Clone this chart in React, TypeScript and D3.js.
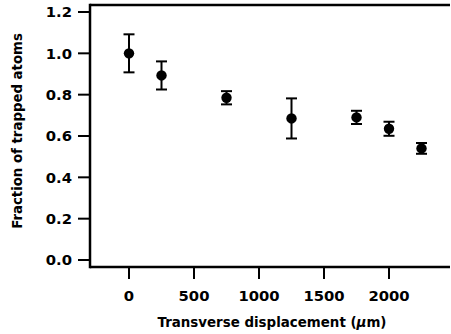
import React from "react";
import * as d3 from "d3";

const displacement = [0, 250, 750, 1250, 1750, 2000, 2250];
const fraction = [1.0, 0.893, 0.785, 0.685, 0.69, 0.635, 0.54];
const errors = [0.092, 0.068, 0.032, 0.097, 0.032, 0.034, 0.026];
const xTicks = [0, 500, 1000, 1500, 2000];
const yTicks = [0.0, 0.2, 0.4, 0.6, 0.8, 1.0, 1.2];

const W = 451;
const H = 334;
const left = 90;
const right = 450;
const top = 5;
const bottom = 267;

export default function App() {
  const x = d3.scaleLinear().domain([0, 2000]).range([129, 389]);
  const y = d3.scaleLinear().domain([0, 1.2]).range([260, 12]);
  const font = "'DejaVu Sans', sans-serif";
  return (
    <svg width={W} height={H} style={{ position: "absolute", left: 0, top: 0 }}>
      <rect width={W} height={H} fill="#fff" />
      <line x1={left} x2={left} y1={top - 1.25} y2={bottom + 1.25} stroke="#000" strokeWidth={2.5} />
      <line x1={left} x2={right} y1={top} y2={top} stroke="#000" strokeWidth={2.5} />
      <line x1={left} x2={right} y1={bottom} y2={bottom} stroke="#000" strokeWidth={2.5} />
      {yTicks.map((t) => (
        <g key={"y" + t}>
          <line x1={78} x2={left} y1={y(t)} y2={y(t)} stroke="#000" strokeWidth={2} />
          <text x={72} y={y(t)} dy="0.36em" textAnchor="end" fontFamily={font} fontWeight="bold" fontSize={14.8}>
            {d3.format(".1f")(t)}
          </text>
        </g>
      ))}
      {xTicks.map((t) => (
        <g key={"x" + t}>
          <line x1={x(t)} x2={x(t)} y1={bottom} y2={279} stroke="#000" strokeWidth={2} />
          <text x={x(t)} y={296} dy="0.36em" textAnchor="middle" fontFamily={font} fontWeight="bold" fontSize={14.8}>
            {t}
          </text>
        </g>
      ))}
      <text x={272} y={322} dy="0.36em" textAnchor="middle" fontFamily={font} fontWeight="bold" fontSize={13.4}>
        Transverse displacement (<tspan fontStyle="italic">μ</tspan>m)
      </text>
      <text
        transform={`translate(17,131) rotate(-90)`}
        dy="0.36em"
        textAnchor="middle"
        fontFamily={font}
        fontWeight="bold"
        fontSize={13.3}
      >
        Fraction of trapped atoms
      </text>
      {displacement.map((d, i) => {
        const cx = x(d);
        const yt = y(fraction[i] + errors[i]);
        const yb = y(fraction[i] - errors[i]);
        return (
          <g key={"p" + i}>
            <line x1={cx} x2={cx} y1={yt} y2={yb} stroke="#000" strokeWidth={2} />
            <line x1={cx - 5.5} x2={cx + 5.5} y1={yt} y2={yt} stroke="#000" strokeWidth={2} />
            <line x1={cx - 5.5} x2={cx + 5.5} y1={yb} y2={yb} stroke="#000" strokeWidth={2} />
            <circle cx={cx} cy={y(fraction[i])} r={5.2} fill="#000" />
          </g>
        );
      })}
    </svg>
  );
}
